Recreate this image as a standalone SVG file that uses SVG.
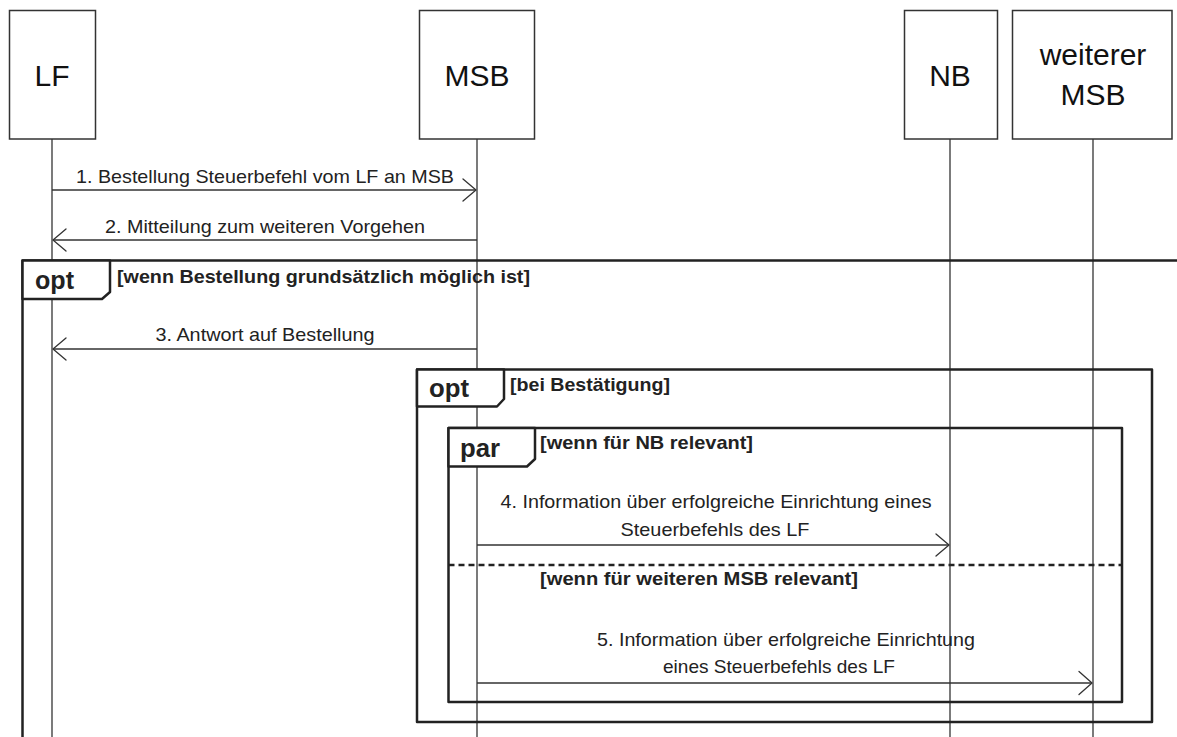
<svg xmlns="http://www.w3.org/2000/svg" width="1177" height="737" viewBox="0 0 1177 737">
<defs>
<style>
.box{fill:#fff;stroke:#333;stroke-width:1.5}
.life{stroke:#333;stroke-width:1.3;fill:none}
.msg{stroke:#333;stroke-width:1.3;fill:none}
.head{stroke:#333;stroke-width:1.3;fill:none;stroke-linecap:round;stroke-linejoin:round}
.frame{fill:none;stroke:#222;stroke-width:2.5;stroke-linejoin:round}
.tab{fill:#fff;stroke:#222;stroke-width:2.5;stroke-linejoin:round}
.sep{stroke:#222;stroke-width:2.5;stroke-dasharray:6 4}
.ht{font-family:"Liberation Sans",Arial,sans-serif;font-size:30px;fill:#111;text-anchor:middle}
.mt{font-family:"Liberation Sans",Arial,sans-serif;font-size:19px;fill:#222;text-anchor:middle}
.ct{font-family:"Liberation Sans",Arial,sans-serif;font-size:19px;font-weight:bold;fill:#222}
.ft{font-family:"Liberation Sans",Arial,sans-serif;font-size:25px;font-weight:bold;fill:#222}
</style>
</defs>
<rect width="1177" height="737" fill="#fff"/>

<g id="lifelines">
<line class="life" x1="52" y1="139" x2="52" y2="737"/>
<line class="life" x1="477" y1="139" x2="477" y2="737"/>
<line class="life" x1="950" y1="139" x2="950" y2="737"/>
<line class="life" x1="1093" y1="139" x2="1093" y2="737"/>
</g>

<g id="node-LF">
<rect class="box" x="9.5" y="10.5" width="86" height="128.5"/>
<text class="ht" x="52" y="86">LF</text>
</g>
<g id="node-MSB">
<rect class="box" x="419.5" y="10.5" width="115" height="128.5"/>
<text class="ht" x="477" y="86">MSB</text>
</g>
<g id="node-NB">
<rect class="box" x="904.5" y="10.5" width="93" height="128.5"/>
<text class="ht" x="950" y="86">NB</text>
</g>
<g id="node-weitererMSB">
<rect class="box" x="1012.5" y="10.5" width="159.5" height="128.5"/>
<text class="ht" x="1093" y="65">weiterer</text>
<text class="ht" x="1093" y="105">MSB</text>
</g>

<g id="frame-opt-outer">
<path class="frame" d="M1180,260.5 H22.5 V740"/>
<path class="tab" d="M22.5,260.5 H110 V292 L102,299 H22.5 Z"/>
<text class="ft" x="35" y="289" textLength="39" lengthAdjust="spacingAndGlyphs">opt</text>
<text class="ct" x="117" y="283" textLength="413" lengthAdjust="spacingAndGlyphs">[wenn Bestellung grundsätzlich möglich ist]</text>
</g>

<g id="frame-opt-inner">
<rect class="frame" x="417" y="369.5" width="735" height="352.5"/>
<path class="tab" d="M417,369.5 H504 V399 L497,406.5 H417 Z"/>
<text class="ft" x="429" y="397" textLength="40" lengthAdjust="spacingAndGlyphs">opt</text>
<text class="ct" x="510" y="391" textLength="160" lengthAdjust="spacingAndGlyphs">[bei Bestätigung]</text>
</g>

<g id="frame-par">
<rect class="frame" x="448.5" y="428" width="673.5" height="274"/>
<path class="tab" d="M448.5,428 H535 V459 L527,466.5 H448.5 Z"/>
<text class="ft" x="460" y="457" textLength="40" lengthAdjust="spacingAndGlyphs">par</text>
<text class="ct" x="540" y="449" textLength="213" lengthAdjust="spacingAndGlyphs">[wenn für NB relevant]</text>
<line class="sep" x1="448.5" y1="565" x2="1122" y2="565"/>
<text class="ct" x="540" y="585" textLength="318" lengthAdjust="spacingAndGlyphs">[wenn für weiteren MSB relevant]</text>
</g>

<g id="connectors">
<g id="msg1">
<line class="msg" x1="52" y1="190" x2="476" y2="190"/>
<path class="head" d="M463,179 L476,190 L463,201"/>
<text class="mt" x="265" y="183" textLength="378" lengthAdjust="spacingAndGlyphs">1. Bestellung Steuerbefehl vom LF an MSB</text>
</g>
<g id="msg2">
<line class="msg" x1="477" y1="240" x2="53" y2="240"/>
<path class="head" d="M66,229 L53,240 L66,251"/>
<text class="mt" x="265" y="233" textLength="320" lengthAdjust="spacingAndGlyphs">2. Mitteilung zum weiteren Vorgehen</text>
</g>
<g id="msg3">
<line class="msg" x1="477" y1="349" x2="53" y2="349"/>
<path class="head" d="M66,338 L53,349 L66,360"/>
<text class="mt" x="265" y="341" textLength="219" lengthAdjust="spacingAndGlyphs">3. Antwort auf Bestellung</text>
</g>
<g id="msg4">
<line class="msg" x1="477" y1="545" x2="949" y2="545"/>
<path class="head" d="M936,534 L949,545 L936,556"/>
<text class="mt" x="716" y="508" textLength="431" lengthAdjust="spacingAndGlyphs">4. Information über erfolgreiche Einrichtung eines</text>
<text class="mt" x="715" y="536" textLength="189" lengthAdjust="spacingAndGlyphs">Steuerbefehls des LF</text>
</g>
<g id="msg5">
<line class="msg" x1="477" y1="683" x2="1092" y2="683"/>
<path class="head" d="M1079,671.5 L1092,683 L1079,694.5"/>
<text class="mt" x="786" y="646" textLength="378" lengthAdjust="spacingAndGlyphs">5. Information über erfolgreiche Einrichtung</text>
<text class="mt" x="779" y="673" textLength="232" lengthAdjust="spacingAndGlyphs">eines Steuerbefehls des LF</text>
</g>
</g>
</svg>
